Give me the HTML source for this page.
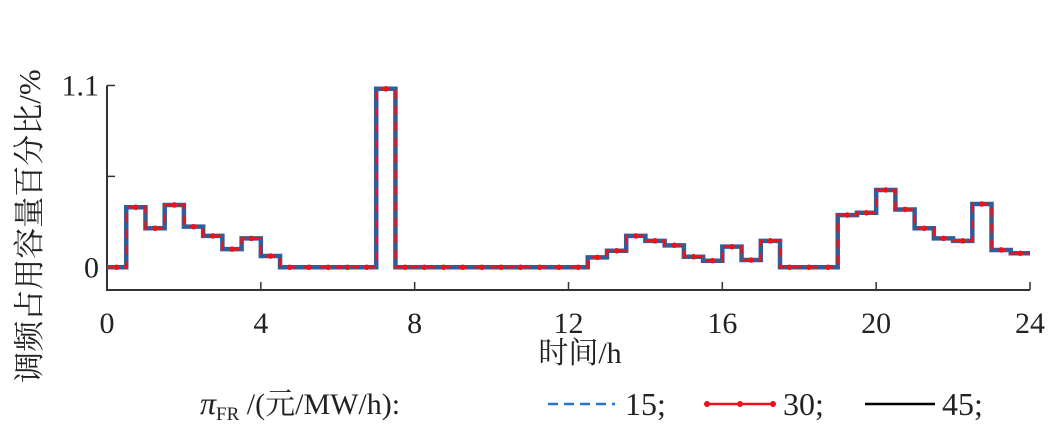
<!DOCTYPE html>
<html><head><meta charset="utf-8"><style>
html,body{margin:0;padding:0;background:#fff;}
svg text{font-family:"Liberation Serif","Noto Serif CJK SC",serif;fill:#222;}
</style></head><body>
<svg width="1058" height="435" viewBox="0 0 1058 435">
<g id="axes"></g>
<g id="plot"></g>
<text x="40" y="226" font-size="31" transform="rotate(-90 40 226)" text-anchor="middle">调频占用容量百分比/%</text>
<text x="580" y="363" font-size="30" text-anchor="middle">时间/h</text>
<g>
<text x="200" y="414" font-size="32" font-style="italic">π<tspan font-size="19" font-style="normal" dy="6">FR</tspan><tspan font-size="30" font-style="normal" dy="-6"> /(元/MW/h):</tspan></text>
<line x1="548" y1="404" x2="615" y2="404" stroke="#1f77d0" stroke-width="2.5" stroke-dasharray="10,6"/>
<text x="625" y="415" font-size="32">15;</text>
<line x1="705" y1="404" x2="775" y2="404" stroke="#e8141a" stroke-width="2.5"/>
<circle cx="707" cy="404" r="3" fill="#e8141a"/><circle cx="740" cy="404" r="3" fill="#e8141a"/><circle cx="773" cy="404" r="3" fill="#e8141a"/>
<text x="783" y="415" font-size="32">30;</text>
<line x1="865" y1="404" x2="935" y2="404" stroke="#000" stroke-width="2.5"/>
<text x="942" y="415" font-size="32">45;</text>
</g>
</svg>
<script>
const xTicks=[0,4,8,12,16,20,24];
const yTicks=[0,0.55,1.1];
const yTickLabels=["0","","1.1"];
const seriesVals=[0,0.363,0.236,0.377,0.246,0.19,0.11,0.175,0.068,0,0,0,0,0,1.08,0,0,0,0,0,0,0,0,0,0,0.06,0.1,0.19,0.16,0.133,0.064,0.04,0.125,0.044,0.16,0,0,0,0.316,0.33,0.468,0.35,0.236,0.175,0.16,0.383,0.105,0.085];
const stepHours=0.5;
const NS="http://www.w3.org/2000/svg";
const X0=107,X1=1030,Y0=267.3,YS=165.3;
function xs(h){return X0+(h/24)*(X1-X0);}
function ys(v){return Y0-v*YS;}
const axes=document.getElementById('axes'),plot=document.getElementById('plot');
function mk(tag,attrs,parent){const e=document.createElementNS(NS,tag);for(const k in attrs)e.setAttribute(k,attrs[k]);parent.appendChild(e);return e;}
let a=mk('path',{d:`M${X0} ${ys(1.1)}H${X0}V290H${X1}`,fill:'none',stroke:'#333','stroke-width':2},axes);


xTicks.forEach(t=>{
 const l=mk('line',{x1:xs(t),x2:xs(t),y1:290,y2:282,stroke:'#333','stroke-width':1.5},axes);
 
 
 const tx=mk('text',{x:xs(t),y:333,'font-size':30,'text-anchor':'middle'},axes);tx.textContent=t;
 
 
});
yTicks.forEach((t,i)=>{
 const l=mk('line',{x1:X0,x2:X0+8,y1:ys(t),y2:ys(t),stroke:'#333','stroke-width':1.5},axes);
 
 
 if(yTickLabels[i]){const tx=mk('text',{x:X0-8,y:ys(t)+10,'font-size':30,'text-anchor':'end'},axes);tx.textContent=yTickLabels[i];
 
 }
});
function stepPath(vals){let d=`M${xs(0)} ${ys(vals[0])}`;vals.forEach((v,i)=>{d+=`V${ys(v)}H${xs((i+1)*stepHours)}`;});return d;}
const d=stepPath(seriesVals);
let p=mk('path',{d:d,fill:'none',stroke:'#000','stroke-width':2.5},plot);


p=mk('path',{d:d,fill:'none',stroke:'#2e5f9c','stroke-width':4.5},plot);


p=mk('path',{d:d,fill:'none',stroke:'#e8141a','stroke-width':2.5,'stroke-dasharray':'9,7'},plot);


seriesVals.forEach((v,i)=>{
 const c=mk('circle',{cx:xs((i+0.5)*stepHours),cy:ys(v),r:2.8,fill:'#e8141a'},plot);
 
 
});
</script>
</body></html>
